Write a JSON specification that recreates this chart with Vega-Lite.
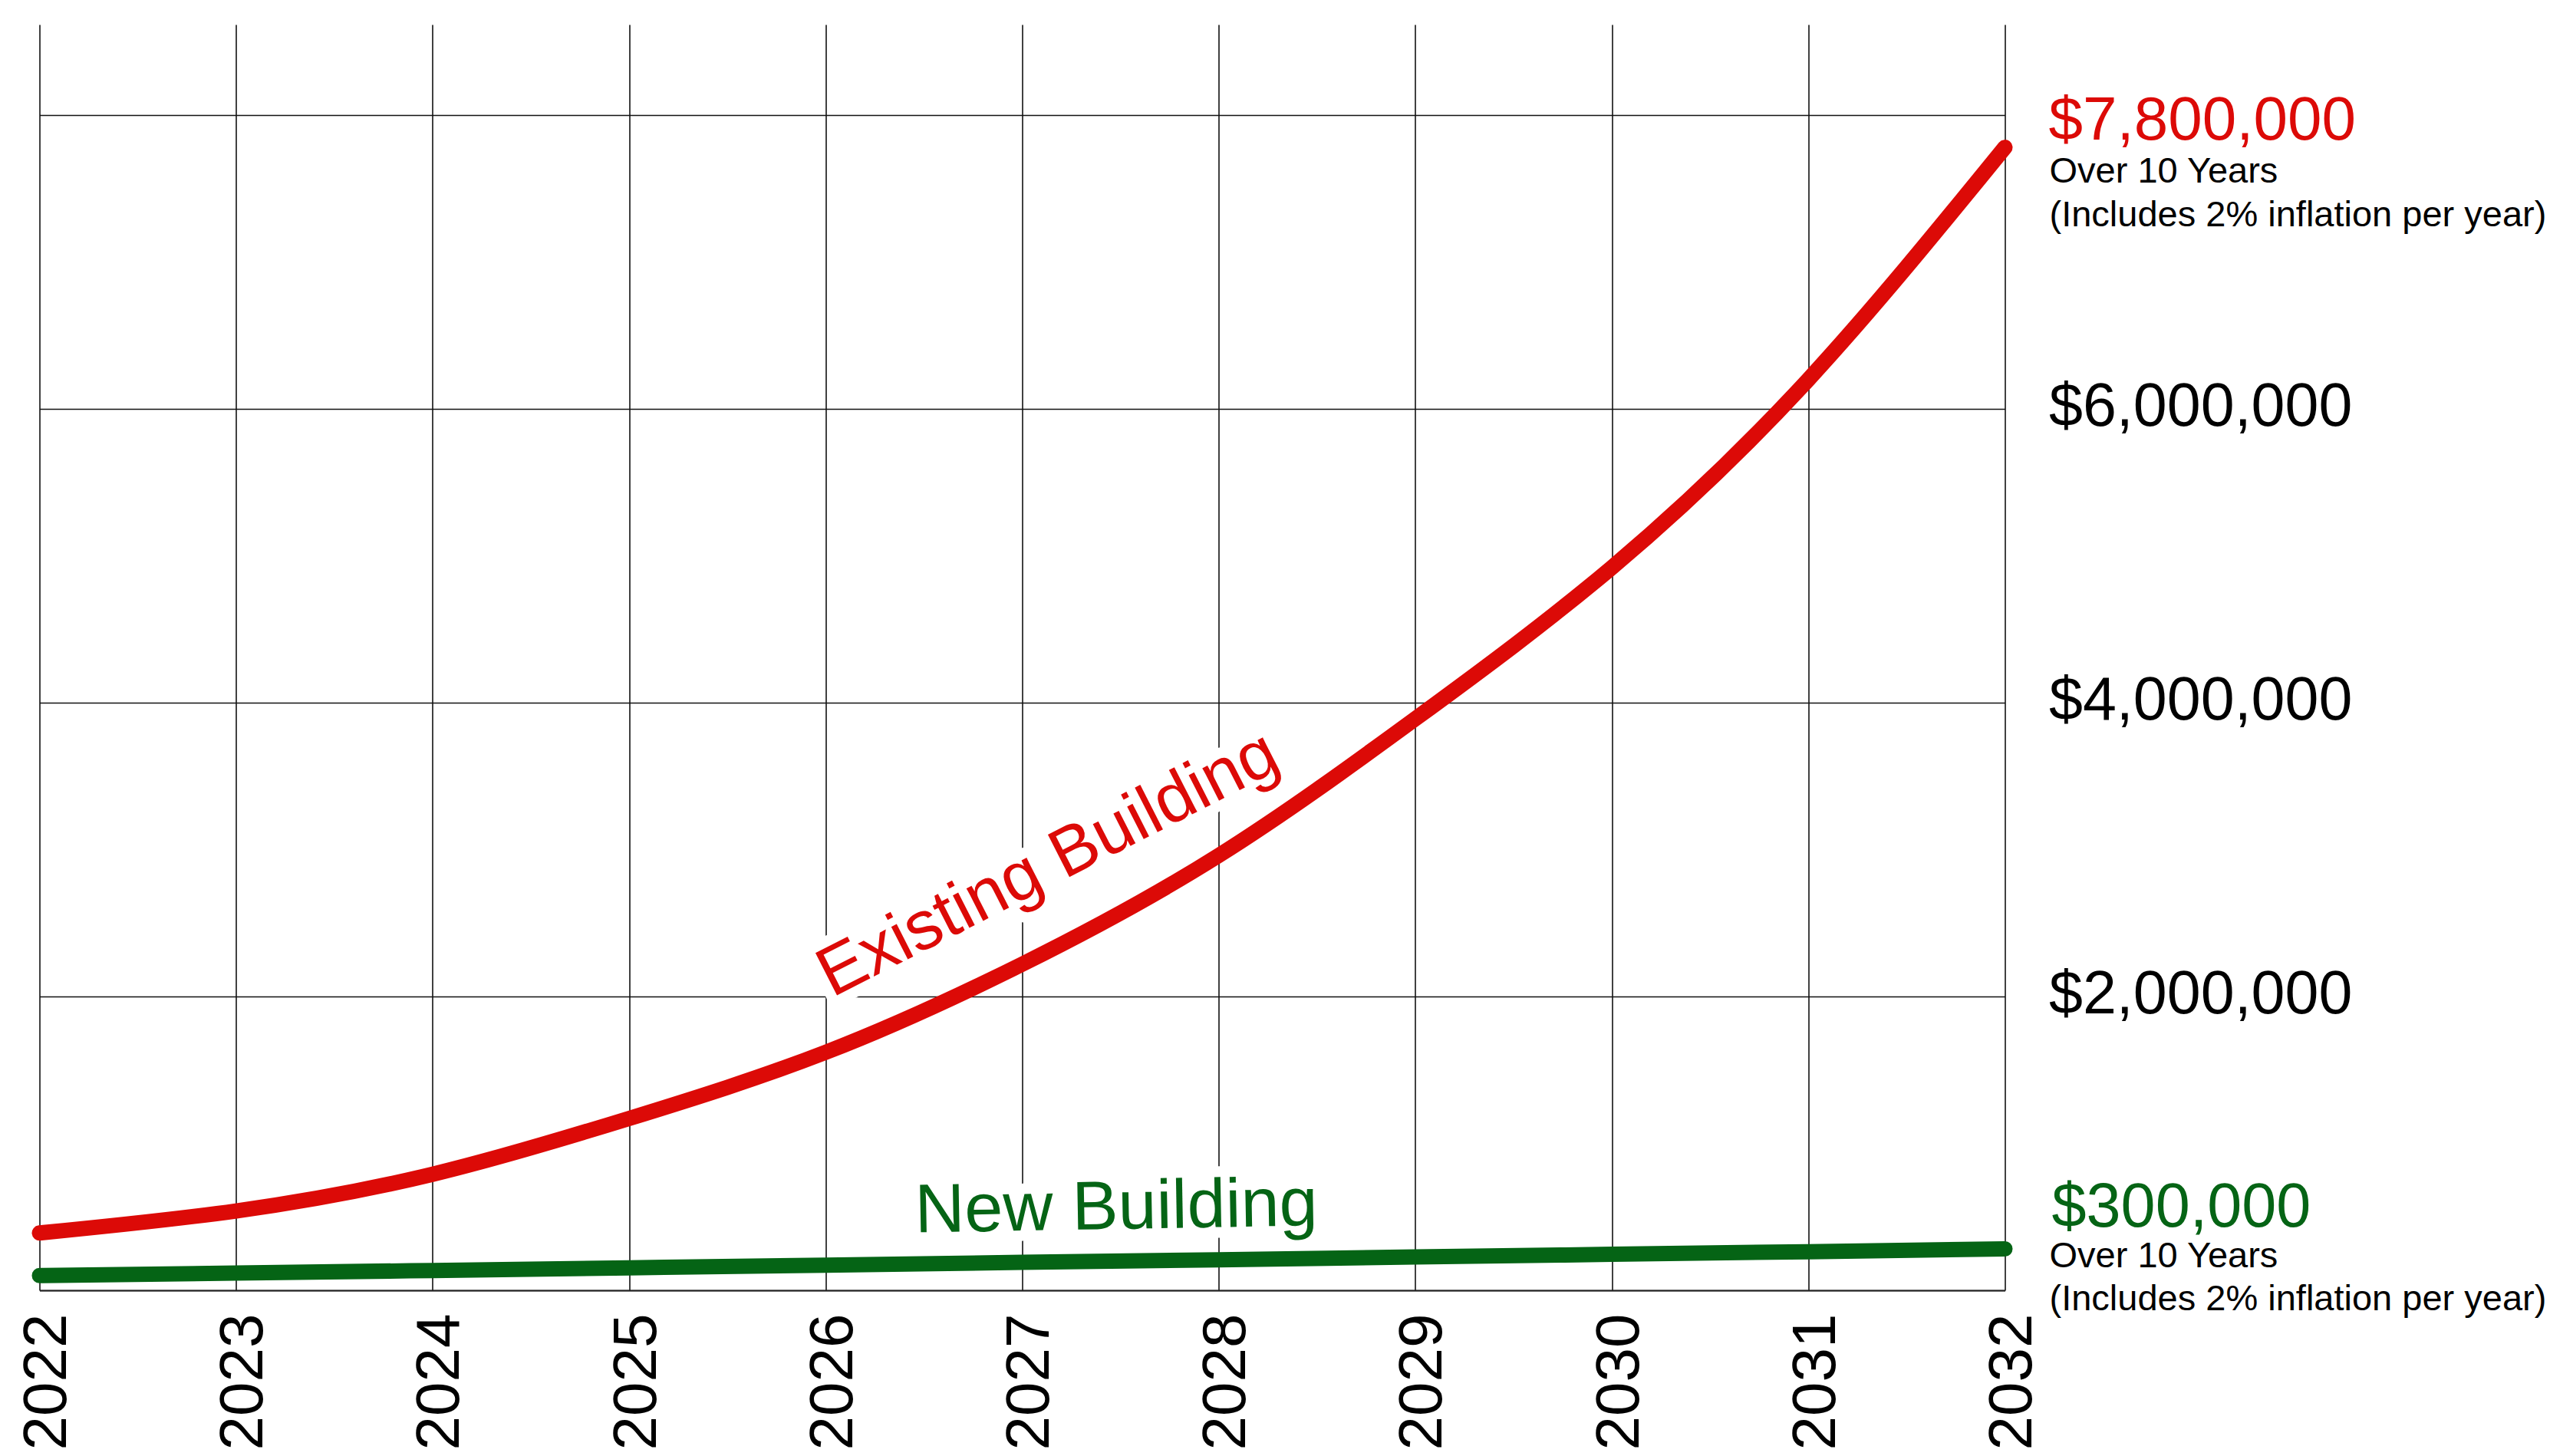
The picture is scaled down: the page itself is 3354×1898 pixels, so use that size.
{
  "$schema": "https://vega.github.io/schema/vega-lite/v6.json",
  "width": 2562,
  "height": 1650,
  "autosize": {"type": "none"},
  "padding": {"left": 51.5, "top": 32, "right": 740.5, "bottom": 216},
  "background": "white",
  "config": {"view": {"stroke": null}, "font": "Liberation Sans"},
  "datasets": {
    "costs": [
      {"year": 2022, "cost": 390000, "building": "Existing Building"},
      {"year": 2023, "cost": 540000, "building": "Existing Building"},
      {"year": 2024, "cost": 790000, "building": "Existing Building"},
      {"year": 2025, "cost": 1170000, "building": "Existing Building"},
      {"year": 2026, "cost": 1620000, "building": "Existing Building"},
      {"year": 2027, "cost": 2220000, "building": "Existing Building"},
      {"year": 2028, "cost": 2960000, "building": "Existing Building"},
      {"year": 2029, "cost": 3890000, "building": "Existing Building"},
      {"year": 2030, "cost": 4920000, "building": "Existing Building"},
      {"year": 2031, "cost": 6200000, "building": "Existing Building"},
      {"year": 2032, "cost": 7780000, "building": "Existing Building"},
      {"year": 2022, "cost": 100000, "building": "New Building"},
      {"year": 2023, "cost": 117000, "building": "New Building"},
      {"year": 2024, "cost": 135000, "building": "New Building"},
      {"year": 2025, "cost": 153000, "building": "New Building"},
      {"year": 2026, "cost": 171000, "building": "New Building"},
      {"year": 2027, "cost": 190000, "building": "New Building"},
      {"year": 2028, "cost": 208000, "building": "New Building"},
      {"year": 2029, "cost": 227000, "building": "New Building"},
      {"year": 2030, "cost": 245000, "building": "New Building"},
      {"year": 2031, "cost": 263000, "building": "New Building"},
      {"year": 2032, "cost": 282000, "building": "New Building"}
    ]
  },
  "layer": [
    {
      "data": {"name": "costs"},
      "mark": {"type": "line", "strokeWidth": 0, "opacity": 0},
      "encoding": {
        "x": {
          "field": "year", "type": "quantitative",
          "scale": {"domain": [2022, 2032], "nice": false, "zero": false},
          "axis": {
            "orient": "bottom", "title": null,
            "values": [2022, 2023, 2024, 2025, 2026, 2027, 2028, 2029, 2030, 2031, 2032],
            "format": "d", "labelAngle": -90, "labelAlign": "right", "labelBaseline": "middle",
            "labelFontSize": 80, "labelColor": "black", "labelPadding": 30, "labelOffset": 10,
            "labelFont": "Liberation Sans", "labelOverlap": false, "labelFlush": false, "labelLimit": 0,
            "ticks": false, "domain": true, "domainColor": "#222222", "domainWidth": 2,
            "grid": true, "gridColor": "#111111", "gridWidth": 1.6, "gridOpacity": 1
          }
        },
        "y": {
          "field": "cost", "type": "quantitative",
          "scale": {"domain": [0, 8616000], "nice": false},
          "axis": {
            "orient": "right", "title": null,
            "values": [0, 2000000, 4000000, 6000000, 8000000],
            "labelExpr": "datum.value == 0 || datum.value == 8000000 ? '' : '$' + format(datum.value, ',')",
            "labelFontSize": 79, "labelColor": "black", "labelPadding": 57, "labelOffset": -2,
            "labelAlign": "left", "labelBaseline": "middle", "labelFont": "Liberation Sans",
            "labelOverlap": false, "labelFlush": false, "labelLimit": 0,
            "ticks": false, "domain": false,
            "grid": true, "gridColor": "#111111", "gridWidth": 1.6, "gridOpacity": 1
          }
        }
      }
    },
    {
      "data": {"values": [{"label": "Existing Building"}]},
      "mark": {"type": "text", "fontSize": 90, "font": "Liberation Sans", "angle": -27, "align": "center", "baseline": "alphabetic", "fill": "white", "stroke": "white", "strokeWidth": 28, "strokeJoin": "round"},
      "encoding": {"x": {"datum": 2027.18}, "y": {"datum": 2773000}, "text": {"field": "label"}}
    },
    {
      "data": {"values": [{"label": "New Building"}]},
      "mark": {"type": "text", "fontSize": 90, "font": "Liberation Sans", "angle": -1, "align": "center", "baseline": "alphabetic", "fill": "white", "stroke": "white", "strokeWidth": 28, "strokeJoin": "round"},
      "encoding": {"x": {"datum": 2027.48}, "y": {"datum": 418000}, "text": {"field": "label"}}
    },
    {
      "data": {"name": "costs"},
      "mark": {"type": "line", "strokeWidth": 20, "strokeCap": "round", "strokeJoin": "round", "interpolate": "natural", "clip": false},
      "encoding": {
        "x": {"field": "year", "type": "quantitative"},
        "y": {"field": "cost", "type": "quantitative"},
        "color": {
          "field": "building", "type": "nominal",
          "scale": {"domain": ["Existing Building", "New Building"], "range": ["#dc0a07", "#056415"]},
          "legend": null
        }
      }
    },
    {
      "data": {"values": [{"label": "Existing Building"}]},
      "mark": {"type": "text", "fontSize": 90, "font": "Liberation Sans", "angle": -27, "align": "center", "baseline": "alphabetic", "fill": "#dc0a07"},
      "encoding": {"x": {"datum": 2027.18}, "y": {"datum": 2773000}, "text": {"field": "label"}}
    },
    {
      "data": {"values": [{"label": "New Building"}]},
      "mark": {"type": "text", "fontSize": 90, "font": "Liberation Sans", "angle": -1, "align": "center", "baseline": "alphabetic", "fill": "#056415"},
      "encoding": {"x": {"datum": 2027.48}, "y": {"datum": 418000}, "text": {"field": "label"}}
    },
    {
      "data": {"values": [{"label": "$7,800,000"}]},
      "mark": {"type": "text", "fontSize": 80, "font": "Liberation Sans", "align": "left", "baseline": "alphabetic", "dx": 57, "fill": "#dc0a07"},
      "encoding": {"x": {"datum": 2032}, "y": {"datum": 7833000}, "text": {"field": "label"}}
    },
    {
      "data": {"values": [{"line1": "Over 10 Years", "line2": "(Includes 2% inflation per year)"}]},
      "mark": {"type": "text", "fontSize": 47, "font": "Liberation Sans", "align": "left", "baseline": "alphabetic", "dx": 58, "fill": "black", "lineHeight": 57},
      "encoding": {"x": {"datum": 2032}, "y": {"datum": 7540000}, "text": {"value": ["Over 10 Years", "(Includes 2% inflation per year)"]}}
    },
    {
      "data": {"values": [{"label": "$300,000"}]},
      "mark": {"type": "text", "fontSize": 81, "font": "Liberation Sans", "align": "left", "baseline": "alphabetic", "dx": 61, "fill": "#056415"},
      "encoding": {"x": {"datum": 2032}, "y": {"datum": 433000}, "text": {"field": "label"}}
    },
    {
      "data": {"values": [{"line1": "Over 10 Years", "line2": "(Includes 2% inflation per year)"}]},
      "mark": {"type": "text", "fontSize": 47, "font": "Liberation Sans", "align": "left", "baseline": "alphabetic", "dx": 58, "fill": "black", "lineHeight": 56},
      "encoding": {"x": {"datum": 2032}, "y": {"datum": 157000}, "text": {"value": ["Over 10 Years", "(Includes 2% inflation per year)"]}}
    }
  ]
}
